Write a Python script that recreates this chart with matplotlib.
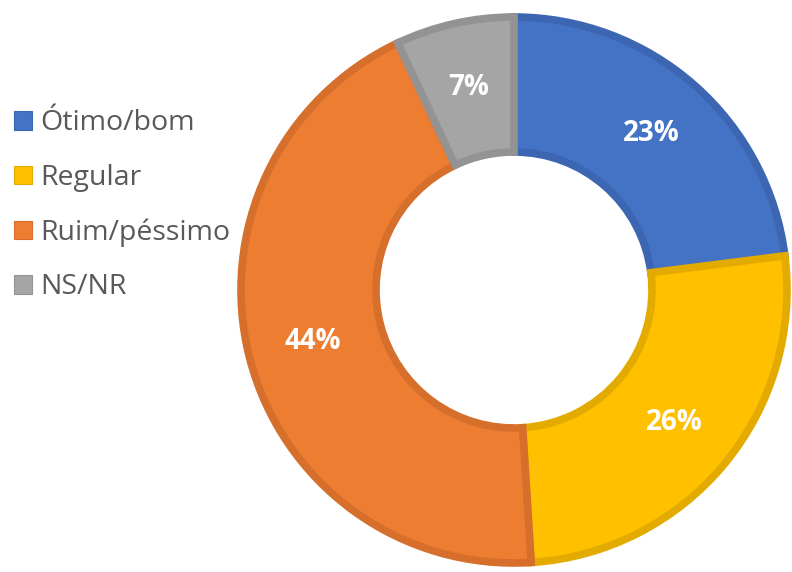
import matplotlib
matplotlib.use("Agg")
import numpy as np
import matplotlib.pyplot as plt
from matplotlib.patches import Patch

# =============================================================================
# Data
# =============================================================================
categories = ['Ótimo/bom', 'Regular', 'Ruim/péssimo', 'NS/NR']
shares = [23, 26, 44, 7]
labels = ['23%', '26%', '44%', '7%']
fill_colors = ['#4472C4', '#FFC000', '#ED7D31', '#A5A5A5']
edge_colors = ['#3C66B1', '#E3AB00', '#D66F2B', '#939393']

# =============================================================================
# Figure (1 data unit = 1 pixel)
# =============================================================================
fig = plt.figure(figsize=(7.92, 5.72), dpi=100)
ax = fig.add_axes([0, 0, 1, 1])

radius = 273
center = (514, 282)
wedges, _ = ax.pie(
    shares,
    colors=fill_colors,
    startangle=90,
    counterclock=False,
    radius=radius,
    center=center,
    wedgeprops=dict(width=radius - 138, linewidth=5.5),
    frame=True,
)
ax.set_xlim(0, 792)
ax.set_ylim(0, 572)
ax.set_aspect('equal')
ax.axis('off')
for w, ec in zip(wedges, edge_colors):
    w.set_edgecolor(ec)
    w.set_joinstyle('miter')

# percentage labels at the middle of each ring segment
label_r = 208
theta = 90 - 360 * (np.cumsum(shares) - np.array(shares) / 2) / sum(shares)
for t, lab in zip(theta, labels):
    ax.text(center[0] + label_r * np.cos(np.radians(t)),
            center[1] + label_r * np.sin(np.radians(t)),
            lab, ha='center', va='center', color='white',
            fontsize=20, fontweight='bold', family='Open Sans')

# legend
handles = [Patch(facecolor=f, edgecolor=e, linewidth=0.8) for f, e in zip(fill_colors, edge_colors)]
leg = ax.legend(handles, categories, loc='center left', bbox_to_anchor=(14 / 792, 0.641),
                frameon=False, prop={'family': 'Open Sans', 'size': 20.5},
                handlelength=0.63, handleheight=0.63, handletextpad=0.3,
                labelspacing=0.93, borderaxespad=0.0, borderpad=0.0)
for t in leg.get_texts():
    t.set_color('#595959')

fig.savefig('out.png', dpi=100)
